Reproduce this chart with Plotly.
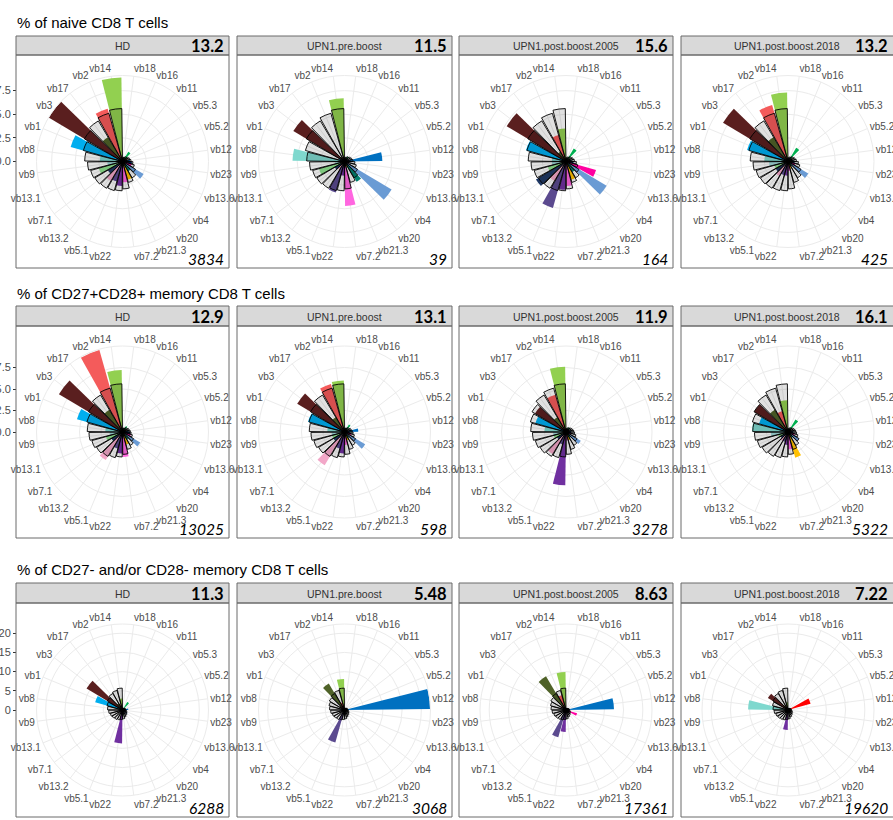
import plotly.graph_objects as go

W, H = 893, 820

cats = ["vb18", "vb16", "vb11", "vb5.3", "vb5.2", "vb12", "vb23", "vb13.6", "vb4", "vb20",
        "vb21.3", "vb7.2", "vb22", "vb5.1", "vb13.2", "vb7.1", "vb13.1", "vb9", "vb8", "vb1",
        "vb3", "vb17", "vb2", "vb14"]
cat_colors = ["#2E75B6", "#7F6000", "#00B050", "#385723", "#FF0000", "#0070C0", "#002060", "#FF00A0",
              "#6A9BD4", "#00806F", "#FFC000", "#FF66E0", "#7030A0", "#5B4A8F", "#F2A7C8", "#1F3864",
              "#8EE28E", "#A0D8D8", "#7FD8CE", "#00AEEF", "#5A1F1F", "#4F6228", "#F45B5B", "#92D050"]

samples = ["HD", "UPN1.pre.boost", "UPN1.post.boost.2005", "UPN1.post.boost.2018"]
row_titles = ["% of naive CD8 T cells", "% of CD27+CD28+ memory CD8 T cells",
              "% of CD27- and/or CD28- memory CD8 T cells"]

# reference (outlined grey) bars per row
grey_naive = [0.4, 0.5, 0.6, 0.7, 0.8, 0.9, 1.1, 1.3, 1.6, 2.0, 2.3, 2.9, 3.1, 3.2, 3.3, 3.4, 3.5, 3.7, 4.0, 4.3, 4.7, 5.0, 5.3, 5.6]
grey_mem = [0.4, 0.5, 0.6, 0.7, 0.8, 0.9, 1.0, 1.2, 1.5, 1.8, 2.1, 2.6, 2.9, 3.1, 3.3, 3.5, 3.7, 3.9, 4.1, 4.3, 4.6, 5.0, 5.3, 5.6]
grey_eff = [0.4, 0.5, 0.6, 0.7, 0.8, 0.9, 1.0, 1.2, 1.4, 1.6, 1.9, 2.3, 2.5, 2.7, 2.9, 3.1, 3.3, 3.6, 3.9, 4.2, 4.6, 5.0, 5.3, 5.7]

naive_HD = [0.4, 0.5, 1.2, 0.6, 0.5, 0.8, 1.0, 1.0, 2.6, 1.2, 2.0, 2.2, 2.6, 2.2, 2.4, 1.8, 2.6, 1.6, 2.4, 5.7, 9.1, 3.0, 5.8, 8.9]
naive_pre = [0.3, 0.3, 0.6, 0.3, 0.3, 4.0, 0.5, 0.5, 5.8, 2.5, 0.6, 4.7, 1.5, 3.4, 1.0, 1.2, 2.8, 1.0, 5.5, 0.6, 6.3, 0.6, 0.5, 6.7]
naive_2005 = [0.3, 0.4, 1.6, 0.5, 0.5, 0.6, 0.8, 3.3, 5.0, 1.3, 2.0, 2.6, 3.0, 5.1, 2.4, 3.7, 2.0, 1.5, 1.5, 4.4, 7.3, 1.2, 2.9, 3.5]
naive_2018 = [0.3, 0.4, 1.7, 0.5, 0.5, 0.6, 0.7, 0.8, 2.5, 0.6, 0.8, 1.0, 1.5, 1.5, 1.8, 1.5, 1.5, 2.0, 2.5, 4.5, 8.0, 3.0, 6.2, 7.3]

mem_HD = [0.3, 0.4, 0.8, 0.5, 0.5, 0.7, 0.9, 1.0, 2.4, 1.0, 1.5, 2.9, 2.5, 2.0, 3.8, 1.5, 2.0, 1.5, 2.0, 5.5, 8.6, 3.0, 9.9, 7.2]
mem_pre = [0.3, 0.3, 1.0, 0.4, 0.4, 1.6, 0.6, 0.8, 2.8, 0.8, 1.0, 1.5, 2.5, 2.0, 4.5, 1.5, 1.5, 1.5, 2.0, 4.4, 6.4, 2.0, 5.8, 6.0]
mem_2005 = [0.3, 0.3, 0.6, 0.4, 0.4, 0.6, 0.6, 0.6, 2.0, 0.8, 1.0, 1.0, 6.2, 1.5, 3.0, 1.2, 1.5, 1.5, 2.5, 3.7, 4.2, 2.0, 4.5, 7.6]
mem_2018 = [0.3, 0.3, 1.7, 0.4, 0.4, 0.6, 0.6, 0.8, 1.5, 0.8, 3.1, 2.0, 1.5, 1.2, 1.2, 1.0, 1.2, 2.0, 4.2, 3.5, 4.6, 3.0, 2.5, 3.7]

eff_HD = [0.3, 0.4, 2.4, 0.4, 0.4, 1.5, 0.6, 0.6, 1.5, 0.6, 0.6, 0.8, 8.7, 1.0, 0.8, 0.6, 0.8, 0.8, 1.0, 7.4, 10.9, 2.0, 1.5, 3.0]
eff_pre = [0.2, 0.2, 0.3, 0.3, 0.3, 22.3, 0.3, 0.3, 0.4, 0.3, 0.3, 0.4, 1.0, 8.8, 0.6, 0.5, 0.5, 0.5, 0.6, 0.8, 1.5, 8.0, 2.0, 8.1]
eff_2005 = [0.3, 0.3, 0.4, 0.3, 0.3, 12.5, 0.4, 3.0, 0.6, 0.4, 0.5, 1.0, 5.7, 7.4, 0.6, 0.6, 0.6, 0.6, 1.0, 0.8, 1.5, 10.2, 4.0, 9.9]
eff_2018 = [0.3, 0.3, 0.5, 0.4, 6.1, 0.5, 0.4, 0.4, 0.4, 0.4, 0.5, 0.6, 5.2, 0.8, 0.5, 0.5, 0.5, 0.8, 10.4, 0.8, 6.1, 1.5, 1.0, 2.0]

strip_values = [["13.2", "11.5", "15.6", "13.2"],
                ["12.9", "13.1", "11.9", "16.1"],
                ["11.3", "5.48", "8.63", "7.22"]]
cell_counts = [["3834", "39", "164", "425"],
               ["13025", "598", "3278", "5322"],
               ["6288", "3068", "17361", "19620"]]

radial_max = [9.1, 10.0, 22.4]
radial_breaks = [[0, 2.5, 5, 7.5], [0, 2.5, 5, 7.5], [0, 5, 10, 15, 20]]
radial_labels = [["0.0", "2.5", "5.0", "7.5"], ["0.0", "2.5", "5.0", "7.5"], ["0", "5", "10", "15", "20"]]

row_data = [[naive_HD, naive_pre, naive_2005, naive_2018],
            [mem_HD, mem_pre, mem_2005, mem_2018],
            [eff_HD, eff_pre, eff_2005, eff_2018]]
row_grey = [grey_naive, grey_mem, grey_eff]

# ---------------- layout geometry (pixels) ----------------
col_left = [16, 237, 459, 681]
col_right = [229, 452, 673, 896]
strip_top = [36, 306, 583]
strip_bot = [55, 326, 603]
panel_bot = [268, 538, 817]
title_y = [22, 293, 569]
R_PX = 86

def fx(x):
    return x / W

def fy(y):
    return 1 - y / H

GRID = "#ebebeb"
BORDER = "#6b6b6b"
FONT = "Liberation Sans, Arial, sans-serif"

fig = go.Figure()
layout = dict(width=W, height=H, margin=dict(l=0, r=0, t=0, b=0),
              paper_bgcolor="white", plot_bgcolor="white", showlegend=False)
shapes = []
annotations = []

k = 0
for r in range(3):
    cy = (strip_bot[r] + panel_bot[r]) / 2
    annotations.append(dict(text=row_titles[r], x=fx(15), y=fy(title_y[r]), xref="paper", yref="paper",
                            xanchor="left", yanchor="middle", showarrow=False,
                            font=dict(family=FONT, size=15, color="#000000")))
    for c in range(4):
        k += 1
        name = "polar" if k == 1 else f"polar{k}"
        cx = (col_left[c] + col_right[c]) / 2 if c < 3 else 788
        layout[name] = dict(
            domain=dict(x=[fx(cx - R_PX), fx(cx + R_PX)], y=[fy(cy + R_PX), fy(cy - R_PX)]),
            bgcolor="rgba(0,0,0,0)",
            barmode="overlay", bargap=0.1,
            angularaxis=dict(type="category", categoryorder="array", categoryarray=cats,
                             direction="clockwise", rotation=82.5,
                             showgrid=True, gridcolor=GRID, gridwidth=1,
                             showline=True, linecolor=GRID, linewidth=1, ticks="",
                             tickfont=dict(family=FONT, size=10, color="#4d4d4d")),
            radialaxis=dict(range=[0, radial_max[r]], tickvals=radial_breaks[r][1:],
                            showticklabels=False, ticks="", showline=False,
                            showgrid=True, gridcolor=GRID, gridwidth=1),
        )
        fig.add_trace(go.Barpolar(r=row_data[r][c], theta=cats, subplot=name,
                                  marker=dict(color=cat_colors, line=dict(width=0)),
                                  hoverinfo="skip"))
        fig.add_trace(go.Barpolar(r=row_grey[r], theta=cats, subplot=name,
                                  marker=dict(color="rgba(0,0,0,0.12)",
                                              line=dict(color="#000000", width=0.9)),
                                  hoverinfo="skip"))
        # strip and panel border
        shapes.append(dict(type="rect", xref="paper", yref="paper",
                           x0=fx(col_left[c]), x1=fx(col_right[c]), y0=fy(strip_bot[r]), y1=fy(strip_top[r]),
                           fillcolor="#d9d9d9", line=dict(color=BORDER, width=1), layer="below"))
        shapes.append(dict(type="rect", xref="paper", yref="paper",
                           x0=fx(col_left[c]), x1=fx(col_right[c]), y0=fy(panel_bot[r]), y1=fy(strip_bot[r]),
                           fillcolor="rgba(0,0,0,0)", line=dict(color=BORDER, width=1), layer="above"))
        sx = (col_left[c] + col_right[c]) / 2 if c < 3 else (681 + 893) / 2
        annotations.append(dict(text=samples[c], x=fx(sx), y=fy((strip_top[r] + strip_bot[r]) / 2 + 0.5),
                                xref="paper", yref="paper", xanchor="center", yanchor="middle",
                                showarrow=False, font=dict(family=FONT, size=10.5, color="#333333")))
        rx = min(col_right[c], 893) - 3
        annotations.append(dict(text="<b>" + strip_values[r][c] + "</b>", x=fx(rx),
                                y=fy((strip_top[r] + strip_bot[r]) / 2 + 0.5),
                                xref="paper", yref="paper", xanchor="right", yanchor="middle",
                                showarrow=False, font=dict(family="Lato, sans-serif", size=16.5, color="#000000")))
        annotations.append(dict(text="<i>" + cell_counts[r][c] + "</i>", x=fx(rx), y=fy(panel_bot[r] - 9),
                                xref="paper", yref="paper", xanchor="right", yanchor="middle",
                                showarrow=False, font=dict(family="Lato, sans-serif", size=15.5, color="#000000")))

    # left radial axis (cartesian axis mirroring the radial scale)
    yname = "yaxis" if r == 0 else f"yaxis{r + 1}"
    layout[yname] = dict(domain=[fy(cy), fy(cy - R_PX)],
                         range=[0, radial_max[r]], anchor="free", position=fx(16),
                         tickvals=radial_breaks[r], ticktext=radial_labels[r],
                         ticks="outside", ticklen=3, tickcolor="#333333", showgrid=False,
                         zeroline=False, showline=False, automargin=False,
                         tickfont=dict(family=FONT, size=11, color="#4d4d4d"))
    fig.add_trace(go.Scatter(x=[0], y=[0], xaxis="x", yaxis="y" if r == 0 else f"y{r + 1}",
                             mode="markers", marker=dict(opacity=0), hoverinfo="skip"))

layout["xaxis"] = dict(domain=[0, fx(16)], visible=False, range=[1, 2])
layout["shapes"] = shapes
layout["annotations"] = annotations
fig.update_layout(**layout)
fig.write_html("out.html", config={"displayModeBar": False},
               post_script="document.body.style.margin='0';document.body.style.overflow='hidden';")
